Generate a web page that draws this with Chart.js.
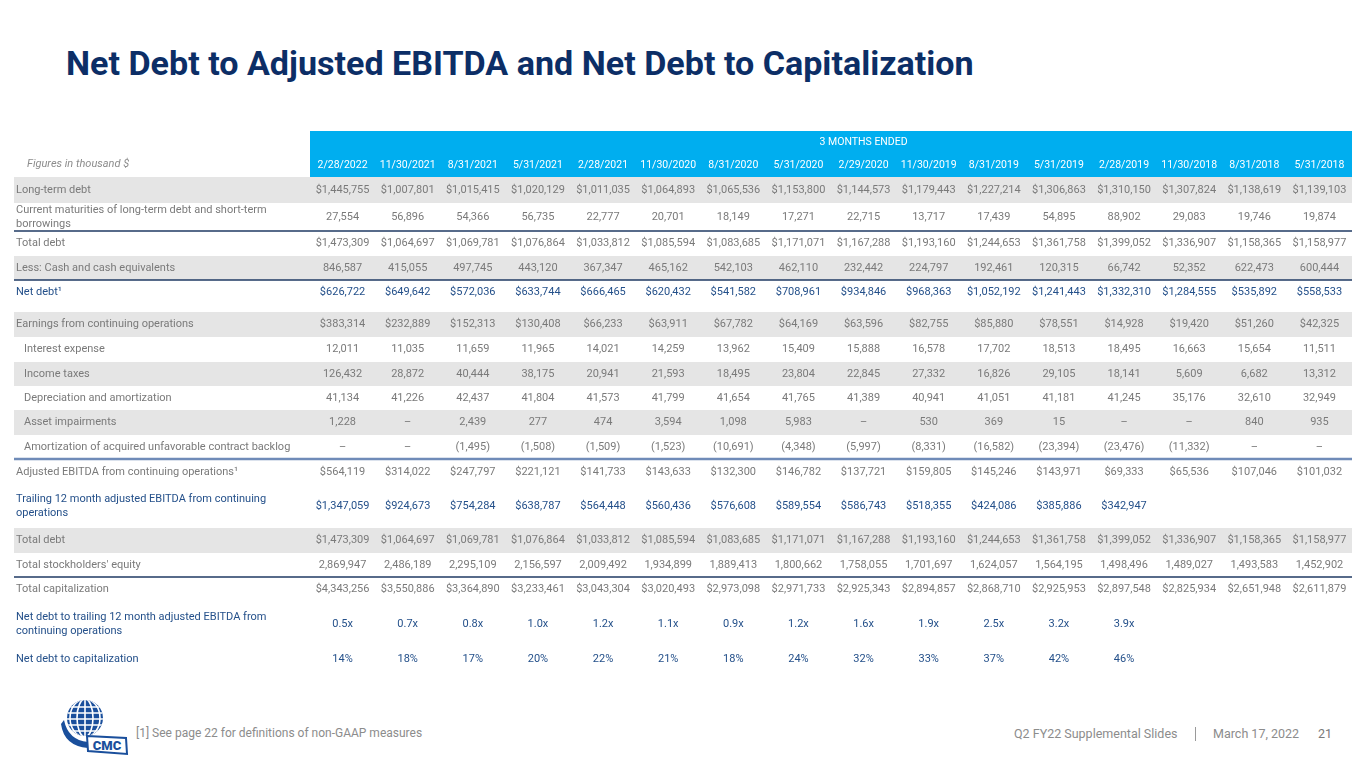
<!DOCTYPE html>
<html>
<head>
<meta charset="utf-8">
<title>Net Debt to Adjusted EBITDA and Net Debt to Capitalization</title>
<script src="https://cdn.jsdelivr.net/npm/chart.js@4.4.1/dist/chart.umd.min.js"></script>
<style>
  html, body { margin: 0; padding: 0; background: #fff; }
  body { width: 1365px; height: 768px; position: relative; overflow: hidden; font-family: Roboto, "Noto Sans", sans-serif; }
  #title { position: absolute; left: 66px; top: 46px; font-size: 34px; line-height: 34px; font-weight: 700; color: #0c2e66; white-space: nowrap; transform-origin: 0 0; }
  #tableWrap { position: absolute; left: 0; top: 120px; width: 1365px; height: 560px; }
  #chart { width: 1365px; height: 560px; }
  .foot { position: absolute; top: 727px; font-size: 12.5px; line-height: 13px; color: #8c8c8c; white-space: nowrap; }
  #logo { position: absolute; left: 60px; top: 698px; }
</style>
</head>
<body>
<div id="title">Net Debt to Adjusted EBITDA and Net Debt to Capitalization</div>
<div id="tableWrap"><canvas id="chart" width="1365" height="560"></canvas></div>

<svg id="logo" width="72" height="60" viewBox="0 0 72 60">
  <defs><clipPath id="globe"><circle cx="25" cy="20" r="18"/></clipPath></defs>
  <circle cx="25" cy="20" r="18" fill="#1a4f9c"/>
  <g clip-path="url(#globe)" stroke="#fff" stroke-width="1.6" fill="none">
    <line x1="0" y1="9" x2="50" y2="9"/>
    <line x1="0" y1="15" x2="50" y2="15"/>
    <line x1="0" y1="21" x2="50" y2="21"/>
    <line x1="0" y1="27" x2="50" y2="27"/>
    <line x1="0" y1="33" x2="50" y2="33"/>
    <line x1="25" y1="0" x2="25" y2="40"/>
    <ellipse cx="25" cy="20" rx="8" ry="19"/>
    <ellipse cx="25" cy="20" rx="15" ry="19"/>
  </g>
  <path d="M4,22 Q8,42 28,44 L28,50 Q4,48 1,26 Z" fill="#1a4f9c"/>
  <path d="M27,38 L66,40 L67,56 L28,53 Z" fill="#fff" stroke="#1a4f9c" stroke-width="2"/>
  <text x="47" y="52" text-anchor="middle" font-family="Roboto, sans-serif" font-weight="900" font-size="13" fill="#1a4f9c">CMC</text>
</svg>

<div class="foot" style="left:136px;font-size:12px">[1] See page 22 for definitions of non-GAAP measures</div>
<div class="foot" style="left:1014px">Q2 FY22 Supplemental Slides</div>
<div style="position:absolute;left:1195px;top:727px;width:1px;height:14px;background:#9a9a9a"></div>
<div class="foot" style="left:1213px">March 17, 2022</div>
<div class="foot" style="left:1318px;color:#7a7a7a">21</div>

<script>
// Quarter end dates (3 months ended)
const periods = ["2/28/2022", "11/30/2021", "8/31/2021", "5/31/2021", "2/28/2021", "11/30/2020",
  "8/31/2020", "5/31/2020", "2/29/2020", "11/30/2019", "8/31/2019", "5/31/2019",
  "2/28/2019", "11/30/2018", "8/31/2018", "5/31/2018"];

const rowLabels = [
  "Long-term debt",
  "Current maturities of long-term debt and short-term\nborrowings",
  "Total debt",
  "Less: Cash and cash equivalents",
  "Net debt\u00b9",
  "Earnings from continuing operations",
  "Interest expense",
  "Income taxes",
  "Depreciation and amortization",
  "Asset impairments",
  "Amortization of acquired unfavorable contract backlog",
  "Adjusted EBITDA from continuing operations\u00b9",
  "Trailing 12 month adjusted EBITDA from continuing\noperations",
  "Total debt",
  "Total stockholders' equity",
  "Total capitalization",
  "Net debt to trailing 12 month adjusted EBITDA from\ncontinuing operations",
  "Net debt to capitalization"
];

// Figures in thousand $
const longTermDebt = [1445755, 1007801, 1015415, 1020129, 1011035, 1064893, 1065536, 1153800, 1144573, 1179443, 1227214, 1306863, 1310150, 1307824, 1138619, 1139103];
const currentMaturities = [27554, 56896, 54366, 56735, 22777, 20701, 18149, 17271, 22715, 13717, 17439, 54895, 88902, 29083, 19746, 19874];
const totalDebt = [1473309, 1064697, 1069781, 1076864, 1033812, 1085594, 1083685, 1171071, 1167288, 1193160, 1244653, 1361758, 1399052, 1336907, 1158365, 1158977];
const cashEquivalents = [846587, 415055, 497745, 443120, 367347, 465162, 542103, 462110, 232442, 224797, 192461, 120315, 66742, 52352, 622473, 600444];
const netDebt = [626722, 649642, 572036, 633744, 666465, 620432, 541582, 708961, 934846, 968363, 1052192, 1241443, 1332310, 1284555, 535892, 558533];
const earnings = [383314, 232889, 152313, 130408, 66233, 63911, 67782, 64169, 63596, 82755, 85880, 78551, 14928, 19420, 51260, 42325];
const interestExpense = [12011, 11035, 11659, 11965, 14021, 14259, 13962, 15409, 15888, 16578, 17702, 18513, 18495, 16663, 15654, 11511];
const incomeTaxes = [126432, 28872, 40444, 38175, 20941, 21593, 18495, 23804, 22845, 27332, 16826, 29105, 18141, 5609, 6682, 13312];
const depreciation = [41134, 41226, 42437, 41804, 41573, 41799, 41654, 41765, 41389, 40941, 41051, 41181, 41245, 35176, 32610, 32949];
const assetImpairments = [1228, 0, 2439, 277, 474, 3594, 1098, 5983, 0, 530, 369, 15, 0, 0, 840, 935];
const contractBacklog = [0, 0, -1495, -1508, -1509, -1523, -10691, -4348, -5997, -8331, -16582, -23394, -23476, -11332, 0, 0];
const adjustedEbitda = [564119, 314022, 247797, 221121, 141733, 143633, 132300, 146782, 137721, 159805, 145246, 143971, 69333, 65536, 107046, 101032];
const trailingEbitda = [1347059, 924673, 754284, 638787, 564448, 560436, 576608, 589554, 586743, 518355, 424086, 385886, 342947, null, null, null];
const stockholdersEquity = [2869947, 2486189, 2295109, 2156597, 2009492, 1934899, 1889413, 1800662, 1758055, 1701697, 1624057, 1564195, 1498496, 1489027, 1493583, 1452902];
const totalCapitalization = [4343256, 3550886, 3364890, 3233461, 3043304, 3020493, 2973098, 2971733, 2925343, 2894857, 2868710, 2925953, 2897548, 2825934, 2651948, 2611879];
const netDebtToEbitda = [0.5, 0.7, 0.8, 1.0, 1.2, 1.1, 0.9, 1.2, 1.6, 1.9, 2.5, 3.2, 3.9, null, null, null];
const netDebtToCapitalization = [14, 18, 17, 20, 22, 21, 18, 24, 32, 33, 37, 42, 46, null, null, null];

const tableRows = [longTermDebt, currentMaturities, totalDebt, cashEquivalents, netDebt, earnings,
  interestExpense, incomeTaxes, depreciation, assetImpairments, contractBacklog, adjustedEbitda,
  trailingEbitda, totalDebt, stockholdersEquity, totalCapitalization, netDebtToEbitda, netDebtToCapitalization];
const rowUnits = ["$", "", "$", "", "$", "$", "", "", "", "", "", "$", "$", "$", "", "$", "x", "%"];

// layout / look of the table
const labelColumnWidth = 296;
const headerHeights = [21, 25];
const rowHeights = [26, 28, 25, 24, 32, 25, 25, 24, 24, 25, 24, 26, 43, 25, 24, 24, 46, 24];
const stripedRows = [0, 3, 5, 7, 9, 13];
const indentedRows = [6, 7, 8, 9, 10];
const blueRows = [4, 12, 16, 17];
const ruleBelow = { 1: ["#1f3a63", 1.5], 3: ["#1f3a63", 1.5], 10: ["#6f8bb8", 2.5], 14: ["#1f3a63", 1.5] };
const textShift = { 4: -4 };

const headerBlue = "#00aeef";
const stripeGrey = "#e5e5e5";
const textGrey = "#7a7a7a";
const textBlue = "#24508a";

const headerBottom = headerHeights[0] + headerHeights[1];
const rowTops = [];
let acc = headerBottom;
rowHeights.forEach(h => { rowTops.push(acc); acc += h; });
const tableHeight = acc;

function formatValue(v, unit) {
  if (v === null || v === undefined) return "";
  if (v === 0) return "\u2013";
  if (unit === "x") return v.toFixed(1) + "x";
  if (unit === "%") return v + "%";
  const s = Math.abs(v).toLocaleString("en-US");
  const body = v < 0 ? "(" + s + ")" : s;
  return (unit === "$" ? "$" : "") + body;
}

const cellPlugin = {
  id: "cellPlugin",
  beforeDatasetsDraw(chart) {
    const { ctx, scales: { x, y } } = chart;
    const left = x.left - labelColumnWidth;
    const right = x.right;
    ctx.save();
    // blue header band
    const h0 = y.getPixelForValue(0);
    const h1 = y.getPixelForValue(headerBottom);
    ctx.fillStyle = headerBlue;
    ctx.fillRect(x.left, h0, right - x.left, h1 - h0);
    // grey stripes
    ctx.fillStyle = stripeGrey;
    stripedRows.forEach(r => {
      const y0 = y.getPixelForValue(rowTops[r]);
      const y1 = y.getPixelForValue(rowTops[r] + rowHeights[r]);
      ctx.fillRect(left, y0, right - left, y1 - y0);
    });
    ctx.restore();
  },
  afterDatasetsDraw(chart) {
    const { ctx, scales: { x, y } } = chart;
    const left = x.left - labelColumnWidth;
    const right = x.right;
    ctx.save();
    ctx.textBaseline = "middle";

    // header texts
    ctx.fillStyle = "#ffffff";
    ctx.textAlign = "center";
    ctx.font = "10.5px Roboto";
    ctx.fillText("3 MONTHS ENDED", x.getPixelForValue(8), y.getPixelForValue(11));
    periods.forEach((p, i) => {
      ctx.fillText(p, x.getPixelForValue(i), y.getPixelForValue(headerHeights[0] + 13));
    });
    ctx.font = "italic 11px Roboto";
    ctx.fillStyle = "#8c8c8c";
    ctx.textAlign = "left";
    ctx.fillText("Figures in thousand $", left + 13, y.getPixelForValue(headerHeights[0] + 12));

    // rows
    tableRows.forEach((values, r) => {
      const mid = rowTops[r] + rowHeights[r] / 2 + (textShift[r] || 0);
      const cy = y.getPixelForValue(mid);
      ctx.fillStyle = blueRows.includes(r) ? textBlue : textGrey;
      ctx.font = "11px Roboto";
      // label (may be two lines)
      ctx.textAlign = "left";
      const lines = rowLabels[r].split("\n");
      const lx = left + (indentedRows.includes(r) ? 10 : 2);
      lines.forEach((line, k) => {
        ctx.fillText(line, lx, cy + (k - (lines.length - 1) / 2) * 14);
      });
      // values
      ctx.textAlign = "center";
      values.forEach((v, i) => {
        ctx.fillText(formatValue(v, rowUnits[r]), x.getPixelForValue(i), cy);
      });
      // rule below
      if (ruleBelow[r]) {
        const ry = y.getPixelForValue(rowTops[r] + rowHeights[r]);
        ctx.strokeStyle = ruleBelow[r][0];
        ctx.lineWidth = ruleBelow[r][1];
        ctx.beginPath();
        ctx.moveTo(left, ry);
        ctx.lineTo(right, ry);
        ctx.stroke();
      }
    });
    ctx.restore();
  }
};

function fitTitle() {
  const el = document.getElementById("title");
  const w = el.scrollWidth;
  el.style.transform = "scaleX(" + (908 / w) + ")";
}

function drawTable() {
  new Chart(document.getElementById("chart"), {
    type: "bar",
    data: { labels: periods, datasets: [] },
    options: {
      responsive: false,
      animation: false,
      layout: { padding: { left: 310, right: 13, top: 11, bottom: 9 } },
      scales: {
        x: { type: "category", offset: true, display: false },
        y: { type: "linear", min: 0, max: tableHeight, reverse: true, display: false }
      },
      plugins: { legend: { display: false }, tooltip: { enabled: false } }
    },
    plugins: [cellPlugin]
  });
}

Promise.all([
  document.fonts.load("11px Roboto"),
  document.fonts.load("italic 11px Roboto"),
  document.fonts.load("bold 34px Roboto")
]).catch(() => {}).then(() => {
  fitTitle();
  drawTable();
});
</script>
</body>
</html>
